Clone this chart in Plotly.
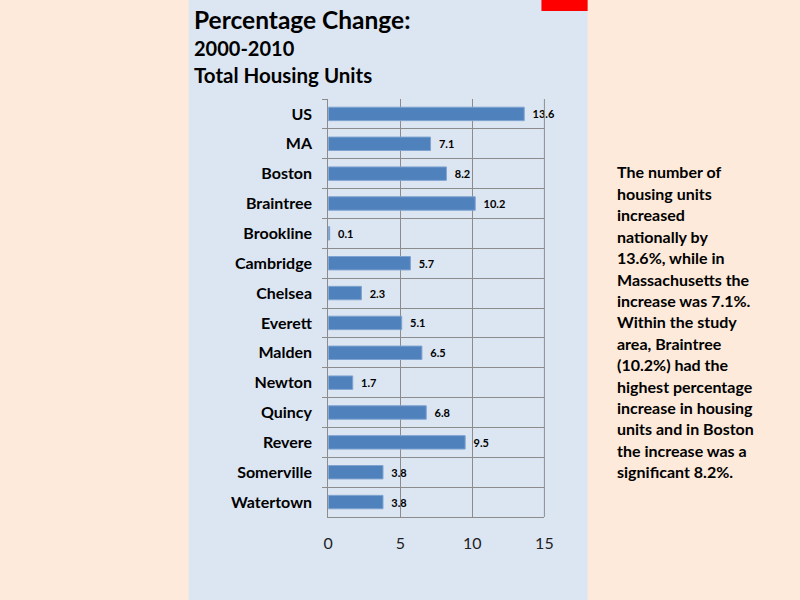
import plotly.graph_objects as go

categories = ["US", "MA", "Boston", "Braintree", "Brookline", "Cambridge", "Chelsea",
              "Everett", "Malden", "Newton", "Quincy", "Revere", "Somerville", "Watertown"]
values = [13.6, 7.1, 8.2, 10.2, 0.1, 5.7, 2.3, 5.1, 6.5, 1.7, 6.8, 9.5, 3.8, 3.8]
x_ticks = [0, 5, 10, 15]
note_lines = ["The number of", "housing units", "increased", "nationally by",
              "13.6%, while in", "Massachusetts the", "increase was 7.1%.",
              "Within the study", "area, Braintree", "(10.2%) had the",
              "highest percentage", "increase in housing", "units and in Boston",
              "the increase was a", "significant 8.2%."]

W, H = 800, 600
FONT = "Lato, 'Open Sans', sans-serif"

fig = go.Figure()
fig.add_trace(go.Bar(
    y=categories, x=values, orientation="h",
    marker=dict(color="#4F81BD", line=dict(color="#7FA3D0", width=1)),
    width=0.45,
    text=["\u00a0\u00a0" + f"{v:.1f}" for v in values], textposition="outside",
    textfont=dict(family=FONT, size=11, color="#000000", weight="bold"),
    cliponaxis=False,
))

shapes = [
    dict(type="rect", xref="paper", yref="paper", x0=187/W, x1=593/W, y0=0, y1=1,
         fillcolor="#DCE6F2", line=dict(width=0), layer="below"),
    dict(type="rect", xref="paper", yref="paper", x0=546/W, x1=593/W, y0=1-11/H, y1=1,
         fillcolor="#FF0000", line=dict(width=0), layer="below"),
]

annotations = [
    dict(text="<b>Percentage Change:</b>", x=190/W, y=1-20/H, xref="paper", yref="paper",
         xanchor="left", yanchor="middle", showarrow=False,
         font=dict(family=FONT, size=24.5, color="#000000")),
    dict(text="<b>2000-2010</b>", x=190/W, y=1-48/H, xref="paper", yref="paper",
         xanchor="left", yanchor="middle", showarrow=False,
         font=dict(family=FONT, size=20, color="#000000")),
    dict(text="<b>Total Housing Units</b>", x=190/W, y=1-75/H, xref="paper", yref="paper",
         xanchor="left", yanchor="middle", showarrow=False,
         font=dict(family=FONT, size=20.5, color="#000000")),
]
for i, line in enumerate(note_lines):
    annotations.append(dict(text=f"<b>{line}</b>", x=621/W, y=1-(172+21.4*i)/H,
                            xref="paper", yref="paper", xanchor="left", yanchor="middle",
                            showarrow=False, font=dict(family=FONT, size=16, color="#000000")))

fig.update_layout(
    width=W, height=H, margin=dict(l=0, r=0, t=0, b=0),
    paper_bgcolor="#FDEADA", plot_bgcolor="rgba(0,0,0,0)",
    showlegend=False, shapes=shapes, annotations=annotations,
    xaxis=dict(domain=[329/W, 549/W], range=[0, 15], tickvals=x_ticks,
               showgrid=True, gridcolor="#8C8C8C", gridwidth=1,
               showline=True, linecolor="#8C8C8C", zeroline=False,
               ticks="", tickfont=dict(family=FONT, size=16, color="#222222"),
               ticklabelstandoff=12, fixedrange=True),
    yaxis=dict(domain=[1-517/H, 1-99/H], autorange="reversed", type="category",
               tickson="boundaries", showgrid=True, gridcolor="#8C8C8C", gridwidth=1,
               showline=True, linecolor="#8C8C8C", ticks="outside", ticklen=5,
               tickcolor="#8C8C8C", ticklabelstandoff=12,
               tickfont=dict(family=FONT, size=16, color="#000000", weight="bold")),
)
fig.add_shape(type="line", xref="paper", yref="paper", x0=549/W, x1=549/W,
              y0=1-517/H, y1=1-99/H, line=dict(color="#8C8C8C", width=1))

fig.write_html("out.html", config={"displayModeBar": False},
               post_script="document.body.style.margin='0';document.body.style.padding='0';")
